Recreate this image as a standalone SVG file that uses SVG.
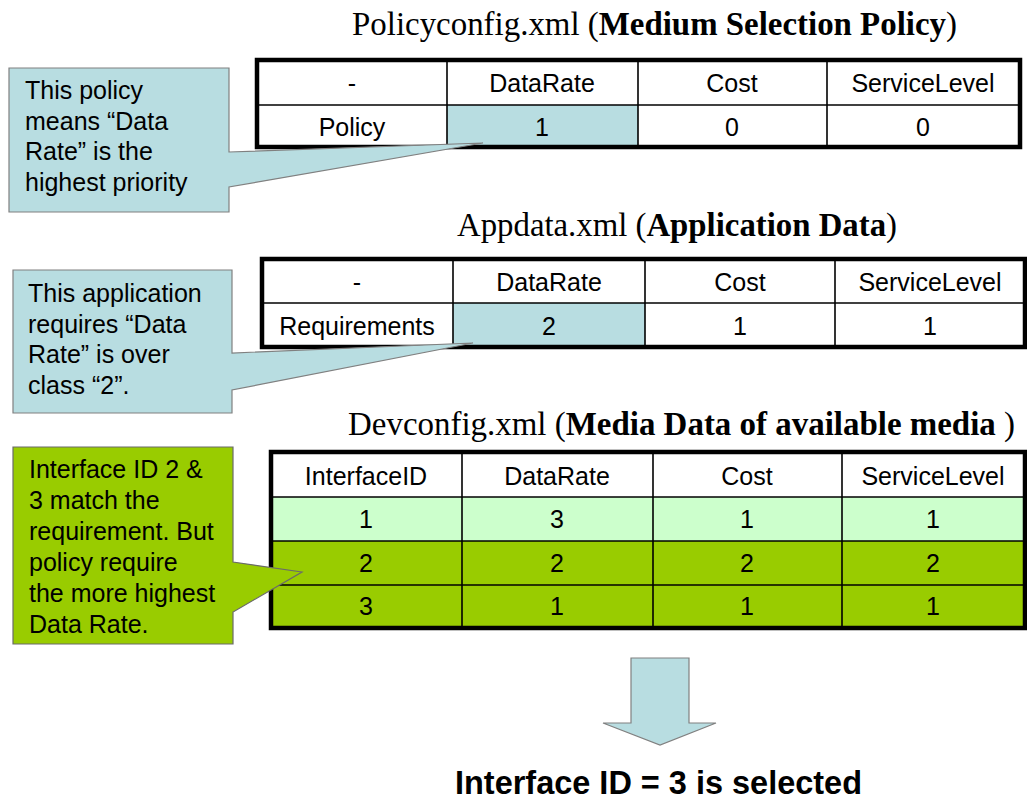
<svg xmlns="http://www.w3.org/2000/svg" width="1027" height="799" viewBox="0 0 1027 799">
<style>
.title{font-family:"Liberation Serif","Times New Roman",serif;font-size:33px;fill:#000}
.b{font-weight:bold}
.cell{font-family:"Liberation Sans",Arial,sans-serif;font-size:25px;fill:#000;text-anchor:middle}
.ct{font-family:"Liberation Sans",Arial,sans-serif;font-size:25px;fill:#000}
.outer{fill:none;stroke:#000;stroke-width:4.5}
.inner{stroke:#000;stroke-width:1.6;fill:none}
.blue{fill:#b8dde1}
.lg{fill:#ccffcc}
.g{fill:#99cc00}
.wh{fill:#fff}
.callB{fill:#b8dde1;stroke:#808080;stroke-width:1.2}
.callG{fill:#99cc00;stroke:#6a6a6a;stroke-width:1.2}
.res{font-family:"Liberation Sans",Arial,sans-serif;font-size:34px;font-weight:bold;fill:#000}
</style>

<g id="title-policy">
<text class="title" x="352" y="35" textLength="605" lengthAdjust="spacingAndGlyphs">Policyconfig.xml (<tspan class="b">Medium Selection Policy</tspan>)</text>
</g>

<g id="table-policy">
<rect class="wh" x="257" y="60" width="763" height="87"/>
<rect class="blue" x="447" y="105" width="191" height="42"/>
<line class="inner" x1="257" y1="105" x2="1020" y2="105"/>
<line class="inner" x1="447" y1="60" x2="447" y2="147"/>
<line class="inner" x1="638" y1="60" x2="638" y2="147"/>
<line class="inner" x1="827" y1="60" x2="827" y2="147"/>
<rect class="outer" x="257" y="60" width="763" height="87"/>
<text class="cell" x="352" y="92">-</text>
<text class="cell" x="542" y="92">DataRate</text>
<text class="cell" x="732" y="92">Cost</text>
<text class="cell" x="923" y="92">ServiceLevel</text>
<text class="cell" x="352" y="136">Policy</text>
<text class="cell" x="542" y="136">1</text>
<text class="cell" x="732" y="136">0</text>
<text class="cell" x="923" y="136">0</text>
</g>

<g id="callout-policy">
<path class="callB" d="M9,68 H229 V152 L483,143 L229,187 V212 H9 Z"/>
<text class="ct" x="25" y="99">This policy</text>
<text class="ct" x="25" y="130">means “Data</text>
<text class="ct" x="25" y="160">Rate” is the</text>
<text class="ct" x="25" y="191">highest priority</text>
</g>

<g id="title-app">
<text class="title" x="457" y="236" textLength="440" lengthAdjust="spacingAndGlyphs">Appdata.xml (<tspan class="b">Application Data</tspan>)</text>
</g>

<g id="table-app">
<rect class="wh" x="262" y="259" width="763" height="88"/>
<rect class="blue" x="453" y="303" width="192" height="44"/>
<line class="inner" x1="262" y1="303" x2="1025" y2="303"/>
<line class="inner" x1="453" y1="259" x2="453" y2="347"/>
<line class="inner" x1="645" y1="259" x2="645" y2="347"/>
<line class="inner" x1="835" y1="259" x2="835" y2="347"/>
<rect class="outer" x="262" y="259" width="763" height="88"/>
<text class="cell" x="357" y="291">-</text>
<text class="cell" x="549" y="291">DataRate</text>
<text class="cell" x="740" y="291">Cost</text>
<text class="cell" x="930" y="291">ServiceLevel</text>
<text class="cell" x="357" y="335">Requirements</text>
<text class="cell" x="549" y="335">2</text>
<text class="cell" x="740" y="335">1</text>
<text class="cell" x="930" y="335">1</text>
</g>

<g id="callout-app">
<path class="callB" d="M13,270 H232 V353 L473,343 L232,390 V413 H13 Z"/>
<text class="ct" x="28" y="302">This application</text>
<text class="ct" x="28" y="333">requires “Data</text>
<text class="ct" x="28" y="363">Rate” is over</text>
<text class="ct" x="28" y="394">class “2”.</text>
</g>

<g id="title-dev">
<text class="title" x="348" y="435" textLength="667" lengthAdjust="spacingAndGlyphs">Devconfig.xml (<tspan class="b">Media Data of available media </tspan>)</text>
</g>

<g id="table-dev">
<rect class="wh" x="271" y="452" width="754" height="45"/>
<rect class="lg" x="271" y="497" width="754" height="44"/>
<rect class="g" x="271" y="541" width="754" height="87"/>
<line class="inner" x1="271" y1="497" x2="1025" y2="497"/>
<line class="inner" x1="271" y1="541" x2="1025" y2="541"/>
<line class="inner" x1="271" y1="585" x2="1025" y2="585"/>
<line class="inner" x1="462" y1="452" x2="462" y2="628"/>
<line class="inner" x1="653" y1="452" x2="653" y2="628"/>
<line class="inner" x1="842" y1="452" x2="842" y2="628"/>
<rect class="outer" x="271" y="452" width="754" height="176"/>
<text class="cell" x="366" y="485">InterfaceID</text>
<text class="cell" x="557" y="485">DataRate</text>
<text class="cell" x="747" y="485">Cost</text>
<text class="cell" x="933" y="485">ServiceLevel</text>
<text class="cell" x="366" y="528">1</text>
<text class="cell" x="557" y="528">3</text>
<text class="cell" x="747" y="528">1</text>
<text class="cell" x="933" y="528">1</text>
<text class="cell" x="366" y="572">2</text>
<text class="cell" x="557" y="572">2</text>
<text class="cell" x="747" y="572">2</text>
<text class="cell" x="933" y="572">2</text>
<text class="cell" x="366" y="615">3</text>
<text class="cell" x="557" y="615">1</text>
<text class="cell" x="747" y="615">1</text>
<text class="cell" x="933" y="615">1</text>
</g>

<g id="callout-dev">
<path class="callG" d="M13,447 H233 V562 L302,572 L233,612 V644 H13 Z"/>
<text class="ct" x="29" y="478">Interface ID 2 &amp;</text>
<text class="ct" x="29" y="509">3 match the</text>
<text class="ct" x="29" y="540">requirement. But</text>
<text class="ct" x="29" y="571">policy require</text>
<text class="ct" x="29" y="602">the more highest</text>
<text class="ct" x="29" y="633">Data Rate.</text>
</g>

<g id="connectors">
<path class="callB" d="M631,658 H689 V723 H716 L660,745 L603,723 H631 Z"/>
</g>

<g id="result">
<text class="res" x="455" y="794" textLength="407" lengthAdjust="spacingAndGlyphs">Interface ID = 3 is selected</text>
</g>
</svg>
